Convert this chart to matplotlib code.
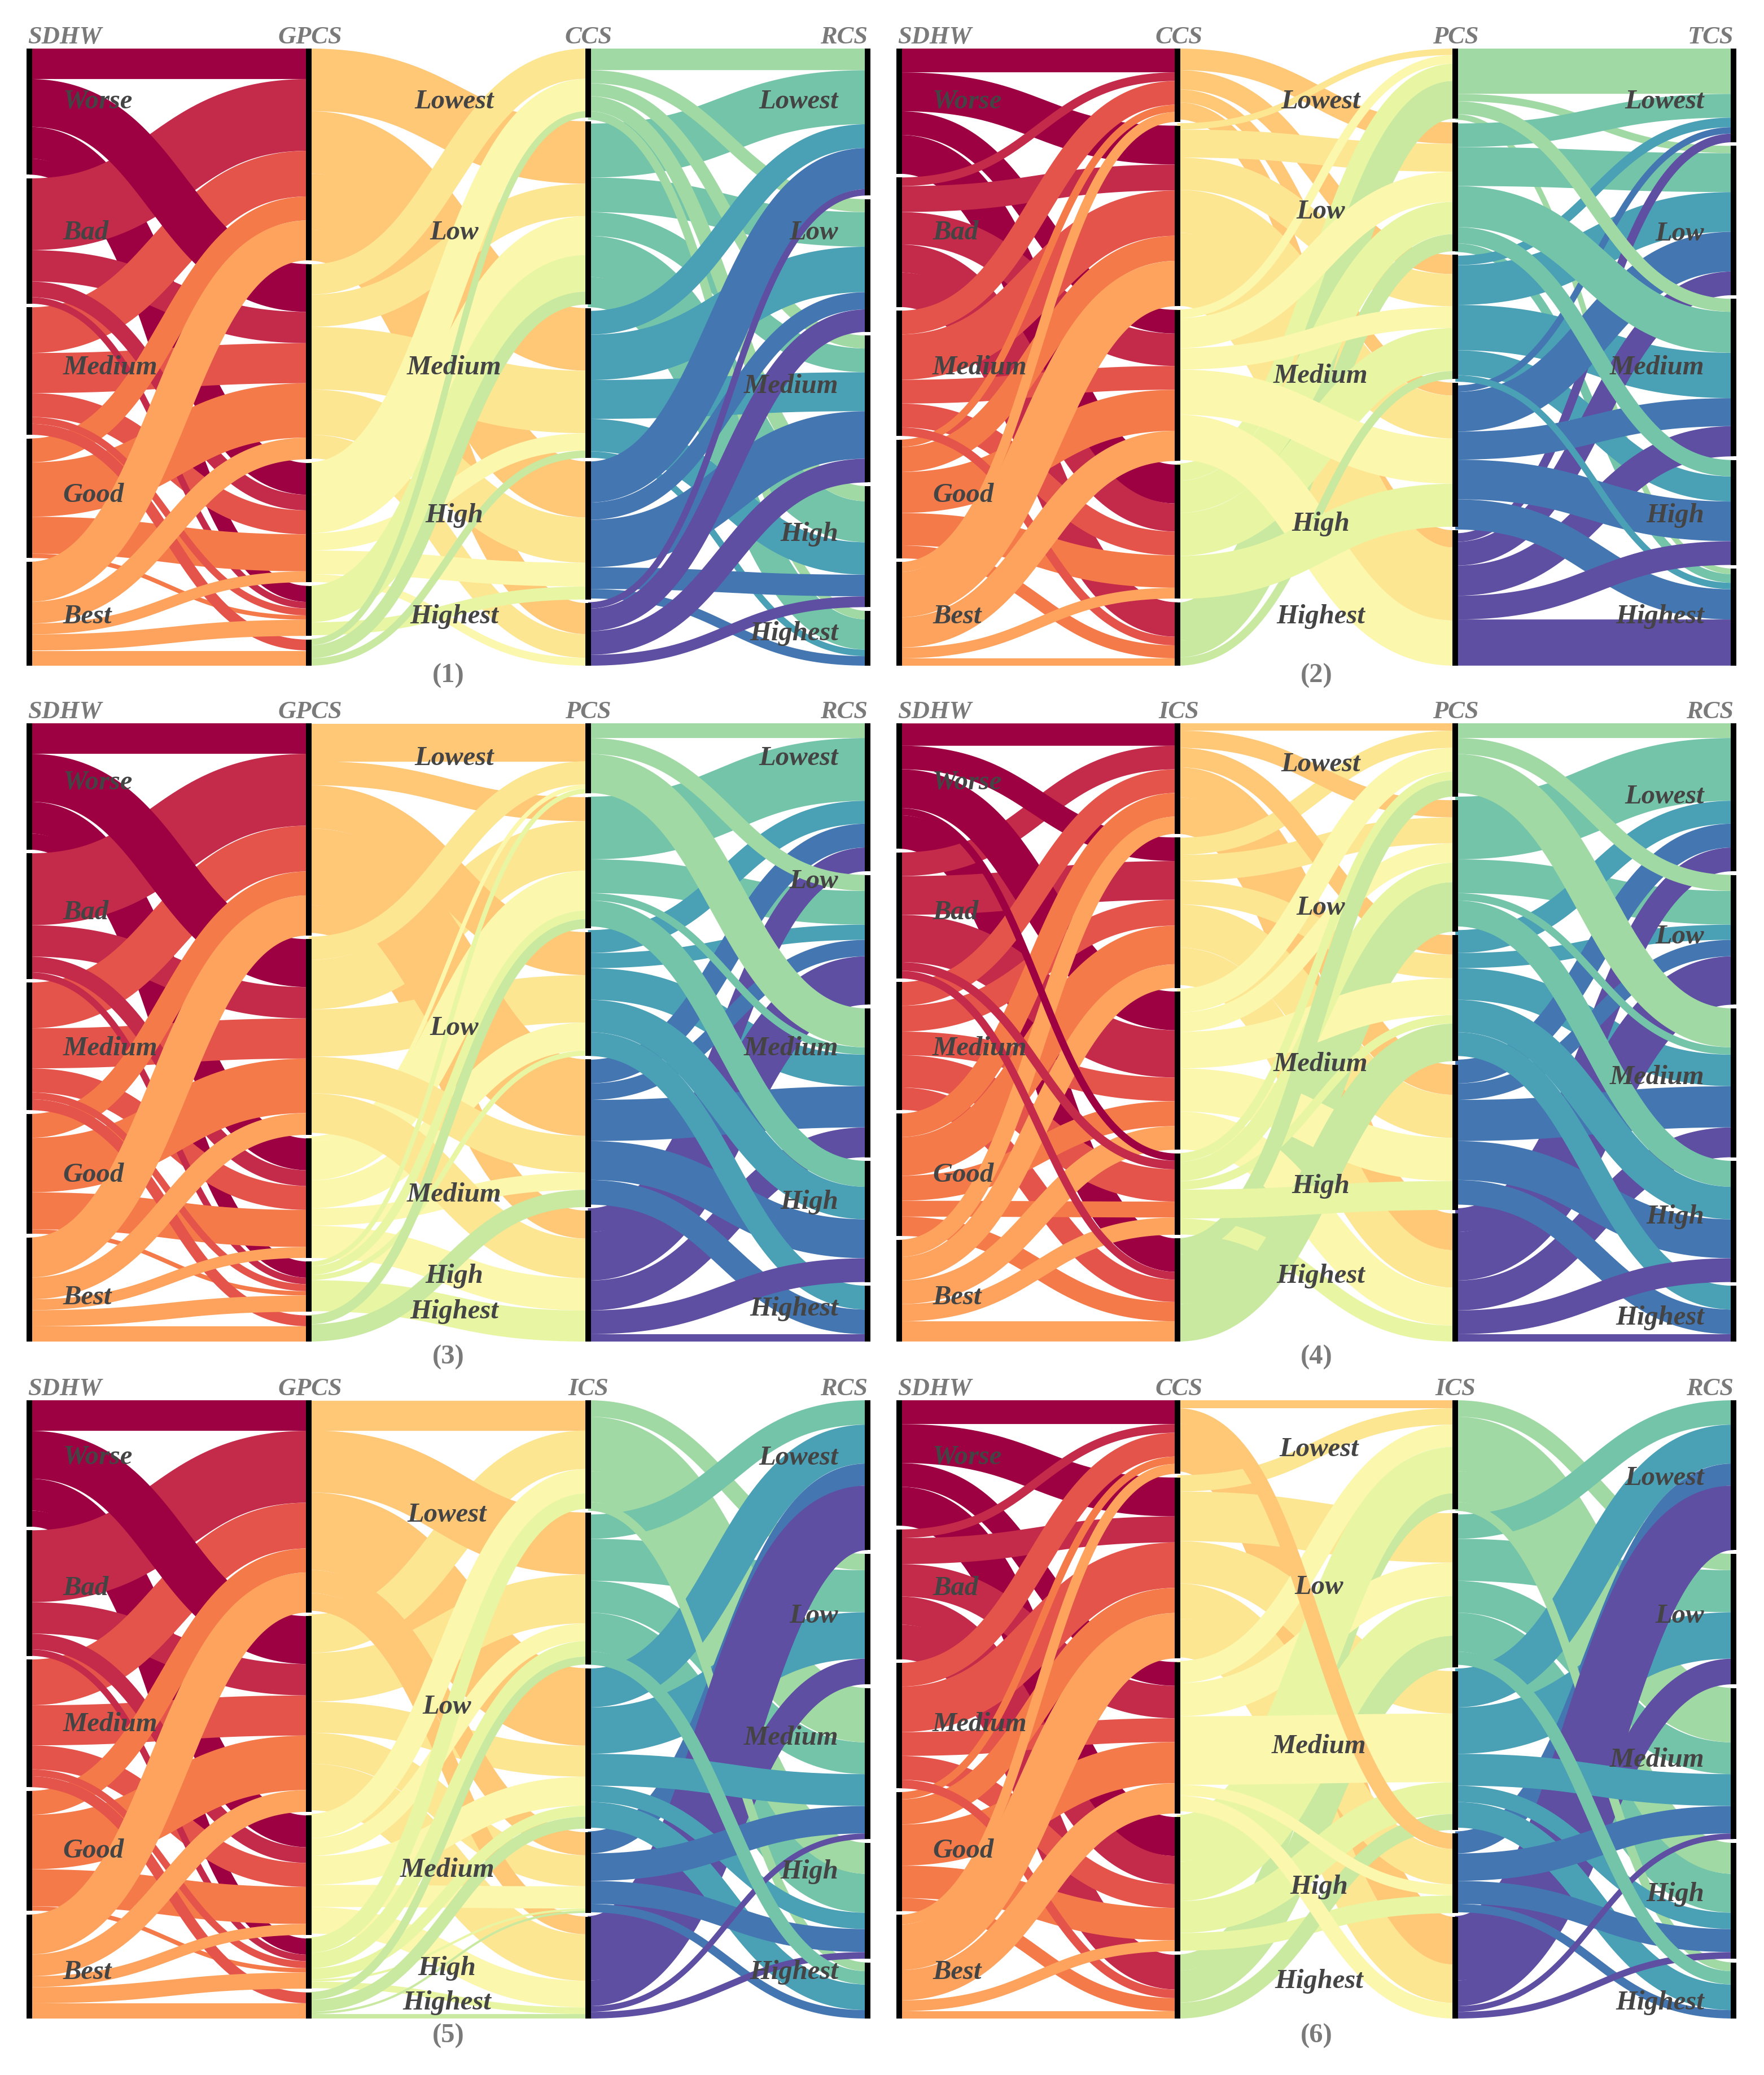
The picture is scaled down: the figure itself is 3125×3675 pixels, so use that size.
"""
Six alluvial panels linking SDHW to the social status scores.
"""
import numpy as np
import matplotlib
matplotlib.use('Agg')
import matplotlib.pyplot as plt

SDHW_LEVELS = ['Worse', 'Bad', 'Medium', 'Good', 'Best']
SCORE_LEVELS = ['Lowest', 'Low', 'Medium', 'High', 'Highest']

# flows, rows = left axis level, columns = right axis level
SDHW_GPCS = [[70, 110, 73, 37, 0],
             [165, 72, 36, 15, 0],
             [105, 92, 55, 16, 25],
             [55, 125, 85, 10, 0],
             [92, 50, 25, 37, 35]]
SDHW_CCS = [[55, 90, 55, 90, 0],
            [20, 60, 75, 65, 80],
            [55, 105, 55, 55, 20],
            [17, 58, 95, 75, 30],
            [23, 105, 70, 25, 17]]
SDHW_ICS = [[52, 55, 90, 17, 78],
            [55, 90, 110, 20, 18],
            [55, 60, 55, 75, 52],
            [55, 90, 58, 37, 45],
            [40, 55, 55, 40, 47]]
GPCS_CCS = [[0, 145, 145, 130, 72],
            [70, 75, 145, 105, 55],
            [75, 90, 40, 55, 18],
            [0, 85, 0, 30, 0],
            [15, 30, 17, 0, 0]]
CCS_PCS = [[0, 50, 45, 30, 40],
           [15, 65, 75, 100, 170],
           [20, 70, 50, 105, 105],
           [40, 75, 100, 100, 0],
           [88, 40, 19, 0, 0]]
GPCS_PCS = [[88, 56, 100, 178, 65],
            [54, 115, 110, 85, 92],
            [10, 92, 65, 40, 75],
            [11, 20, 12, 0, 72],
            [0, 22, 0, 40, 0]]
ICS_PCS = [[17, 40, 45, 70, 85],
           [40, 60, 55, 100, 87],
           [55, 45, 85, 100, 88],
           [20, 45, 20, 67, 37],
           [38, 115, 87, 0, 0]]
GPCS_ICS = [[68, 140, 175, 52, 40],
            [87, 110, 70, 70, 105],
            [55, 40, 65, 50, 60],
            [35, 35, 25, 5, 15],
            [0, 18, 27, 5, 10]]
CCS_ICS = [[18, 0, 0, 35, 108],
           [37, 112, 96, 80, 87],
           [50, 75, 155, 25, 35],
           [105, 90, 72, 40, 0],
           [37, 72, 36, 0, 0]]
CCS_RCS = [[50, 30, 30, 35, 20],
           [125, 80, 55, 95, 70],
           [55, 105, 90, 75, 15],
           [95, 40, 110, 50, 22],
           [15, 52, 55, 25, 0]]
PCS_TCS = [[105, 17, 30, 0, 13],
           [55, 90, 95, 38, 20],
           [22, 92, 105, 58, 15],
           [15, 92, 65, 92, 70],
           [20, 55, 70, 55, 107]]
PCS_RCS = [[34, 37, 90, 0, 0],
           [145, 78, 17, 60, 0],
           [53, 35, 73, 75, 55],
           [55, 38, 95, 90, 57],
           [55, 112, 69, 55, 17]]
ICS_RCS = [[0, 37, 123, 70, 20],
           [55, 95, 72, 88, 30],
           [88, 105, 72, 37, 58],
           [50, 0, 62, 52, 19],
           [146, 58, 13, 15, 0]]

HEADS = [['SDHW', 'GPCS', 'CCS', 'RCS'], ['SDHW', 'CCS', 'PCS', 'TCS'],
         ['SDHW', 'GPCS', 'PCS', 'RCS'], ['SDHW', 'ICS', 'PCS', 'RCS'],
         ['SDHW', 'GPCS', 'ICS', 'RCS'], ['SDHW', 'CCS', 'ICS', 'RCS']]
FLOWS = [[SDHW_GPCS, GPCS_CCS, CCS_RCS], [SDHW_CCS, CCS_PCS, PCS_TCS],
         [SDHW_GPCS, GPCS_PCS, PCS_RCS], [SDHW_ICS, ICS_PCS, PCS_RCS],
         [SDHW_GPCS, GPCS_ICS, ICS_RCS], [SDHW_CCS, CCS_ICS, ICS_RCS]]

# bands are stacked by their left level, these ones sit elsewhere in the pile
LIFT_SDHW_GPCS = {(0, 1): 2.5, (1, 2): 2.5, (1, 3): 2.5, (2, 3): 3.5, (2, 4): 3.5}
LIFT_SDHW_CCS = {(2, 4): 3.5}
LIFT_SDHW_ICS = {(0, 1): 1.5, (0, 2): 1.5, (0, 3): 9, (1, 3): 5, (1, 4): 5}
LIFT_GPCS_CCS = {}
LIFT_CCS_PCS = {(4, 0): 1.5, (4, 1): 1.5, (2, 0): 3.5, (2, 1): 3.5, (2, 2): 3.5,
                (2, 3): 3.5, (2, 4): 3.5, (3, 3): 4}
LIFT_GPCS_PCS = {(0, 2): 1.2, (0, 3): 1.2, (1, 0): 3, (1, 1): 0.5, (1, 3): 2.5,
                 (1, 4): 2.5}
LIFT_ICS_PCS = {(0, 1): 1.5, (0, 2): 1.2, (4, 1): 1.5, (3, 3): 5}
LIFT_GPCS_ICS = {(0, 1): 1.5, (0, 3): 1.5, (0, 4): 1.5}
LIFT_CCS_ICS = {(0, 3): 9, (0, 4): 0.5, (2, 2): 5, (2, 3): 5, (2, 4): 5,
                (4, 0): 1.5, (4, 1): 1.5}
LIFT_CCS_RCS = {(0, 1): 1.5, (0, 2): 1.5, (0, 3): 1.5, (0, 4): 1.5}
LIFT_PCS_TCS = {(0, 2): 5, (1, 2): 3.5, (1, 3): 3.5, (2, 4): 4.5, (4, 0): 2.5,
                (4, 1): 2.5, (4, 2): 2.5, (4, 3): 5}
LIFT_PCS_RCS = {(0, 1): 6, (0, 2): 6, (1, 2): 5.5, (1, 3): 3.5, (2, 3): 3.5,
                (2, 4): 3.5, (4, 0): 2.5, (4, 1): 2.5, (4, 2): 2.5, (4, 3): 5}
LIFT_ICS_RCS = {(0, 2): 1.5, (0, 3): 1.5, (0, 4): 3.5, (1, 0): 3, (1, 4): 9,
                (2, 2): 4.5, (2, 3): 4.5, (2, 4): 4.5, (3, 2): 5,
                (3, 3): 5, (3, 4): 5, (4, 1): 3, (4, 2): 6, (4, 3): 6}
LIFTS = [[LIFT_SDHW_GPCS, LIFT_GPCS_CCS, LIFT_CCS_RCS],
         [LIFT_SDHW_CCS, LIFT_CCS_PCS, LIFT_PCS_TCS],
         [LIFT_SDHW_GPCS, LIFT_GPCS_PCS, LIFT_PCS_RCS],
         [LIFT_SDHW_ICS, LIFT_ICS_PCS, LIFT_PCS_RCS],
         [LIFT_SDHW_GPCS, LIFT_GPCS_ICS, LIFT_ICS_RCS],
         [LIFT_SDHW_CCS, LIFT_CCS_ICS, LIFT_ICS_RCS]]

# layout, in pixels of the finished picture
PANEL_X = [(52, 1537), (1593, 3071)]
PANEL_Y = [(86, 1179), (1281, 2376), (2480, 3575)]
NODE_GAP = 0.006

# label heights as fractions of the panel height
LABEL_Y = [[[.086, .298, .517, .724, .920], [.086, .298, .517, .757, .920], [.086, .298, .547, .787, .948]],
           [[.086, .298, .517, .724, .920], [.086, .264, .531, .770, .920], [.086, .300, .517, .757, .920]],
           [[.095, .306, .526, .731, .929], [.057, .493, .763, .894, .952], [.057, .256, .526, .774, .947]],
           [[.095, .306, .526, .731, .929], [.067, .299, .552, .749, .894], [.119, .345, .573, .798, .962]],
           [[.092, .304, .524, .729, .925], [.185, .496, .760, .919, .974], [.093, .349, .546, .763, .925]],
           [[.092, .304, .524, .729, .925], [.079, .302, .560, .787, .940], [.126, .349, .582, .799, .974]]]
MIDDLE_X = [1.52, 1.515, 1.52, 1.515, 1.495, 1.51]
CAPTION_Y = [1.016, 1.016, 1.025, 1.025, 1.028, 1.028]

COLOURS = ['#9e0142', '#c42a49', '#e4544a', '#f57a49', '#fda35e',
           '#fec877', '#fde692', '#fbf7ad', '#e8f6a4', '#c8e99f',
           '#a0d9a4', '#74c4aa', '#4aa0b5', '#4477b2', '#5e4fa2']
TEXT_GREY = '#444444'
HEAD_GREY = '#7a7a7a'


def band_edges(flow):
    """Top of every band on the left and on the right of a flow matrix."""
    flow = np.asarray(flow, dtype=float)
    scale = (1 - 4 * NODE_GAP) / flow.sum()
    left = np.zeros(flow.shape)
    right = np.zeros(flow.shape)
    start = 0.0
    for i in range(5):
        left[i] = start + np.r_[0, np.cumsum(flow[i])[:-1]] * scale
        start += flow[i].sum() * scale + NODE_GAP
    start = 0.0
    for j in range(5):
        right[:, j] = start + np.r_[0, np.cumsum(flow[:, j])[:-1]] * scale
        start += flow[:, j].sum() * scale + NODE_GAP
    return left, right, flow * scale


def draw_axis(ax, x, heights):
    start = 0.0
    for h in heights:
        ax.vlines(x, start, start + h, color='black', lw=7.2, zorder=5,
                  clip_on=False)
        start += h + NODE_GAP


def draw_flows(ax, flow, lift, x0, colours, panel_px):
    left, right, width = band_edges(flow)
    # horizontal bezier with both control points half way, stroked at full width
    s = np.linspace(0, 1, 200)
    xs = 1.5 * s * (1 - s) + s ** 3
    ys = 3 * s ** 2 - 2 * s ** 3
    for i in range(5):
        for j in range(5):
            if width[i, j] <= 0:
                continue
            y0 = left[i, j] + width[i, j] / 2
            y1 = right[i, j] + width[i, j] / 2
            # axes lines stay above every band
            rank = lift.get((i, j), i)
            ax.plot(x0 + xs, y0 + (y1 - y0) * ys, color=colours[i],
                    lw=width[i, j] * panel_px * 0.72, solid_capstyle='butt',
                    zorder=2 + rank / 10 + j / 1000)
    return width


fig = plt.figure(figsize=(31.25, 36.75), dpi=100)
serif = {'family': 'Liberation Serif', 'weight': 'bold', 'style': 'italic'}

for p in range(6):
    xa, xb = PANEL_X[p % 2]
    ya, yb = PANEL_Y[p // 2]
    ax = fig.add_axes([xa / 3125, 1 - yb / 3675, (xb - xa) / 3125, (yb - ya) / 3675])
    ax.set_xlim(0, 3)
    ax.set_ylim(1, 0)
    ax.axis('off')

    for s, flow in enumerate(FLOWS[p]):
        width = draw_flows(ax, flow, LIFTS[p][s], s, COLOURS[s * 5:s * 5 + 5], yb - ya)
        if s == 0:
            draw_axis(ax, 0, width.sum(axis=1))
        draw_axis(ax, s + 1, width.sum(axis=0))

    col_x = [0.12, MIDDLE_X[p], 2.895]
    aligns = ['left', 'center', 'right']
    names = [SDHW_LEVELS, SCORE_LEVELS, SCORE_LEVELS]
    for c in range(3):
        for name, y in zip(names[c], LABEL_Y[p][c]):
            ax.text(col_x[c], y, name, ha=aligns[c], va='center', fontsize=35,
                    color=TEXT_GREY, zorder=6, **serif)

    ax.text(-0.005, -0.018, HEADS[p][0], ha='left', va='center', fontsize=32,
            color=HEAD_GREY, **serif)
    ax.text(1.005, -0.018, HEADS[p][1], ha='center', va='center', fontsize=32,
            color=HEAD_GREY, **serif)
    ax.text(2.0, -0.018, HEADS[p][2], ha='center', va='center', fontsize=32,
            color=HEAD_GREY, **serif)
    ax.text(3.0, -0.018, HEADS[p][3], ha='right', va='center', fontsize=32,
            color=HEAD_GREY, **serif)
    ax.text(1.5, CAPTION_Y[p], '(%d)' % (p + 1), ha='center', va='center',
            fontsize=35, color=HEAD_GREY, family='Liberation Serif', weight='bold')

fig.savefig('out.png', dpi=100, facecolor='white')
